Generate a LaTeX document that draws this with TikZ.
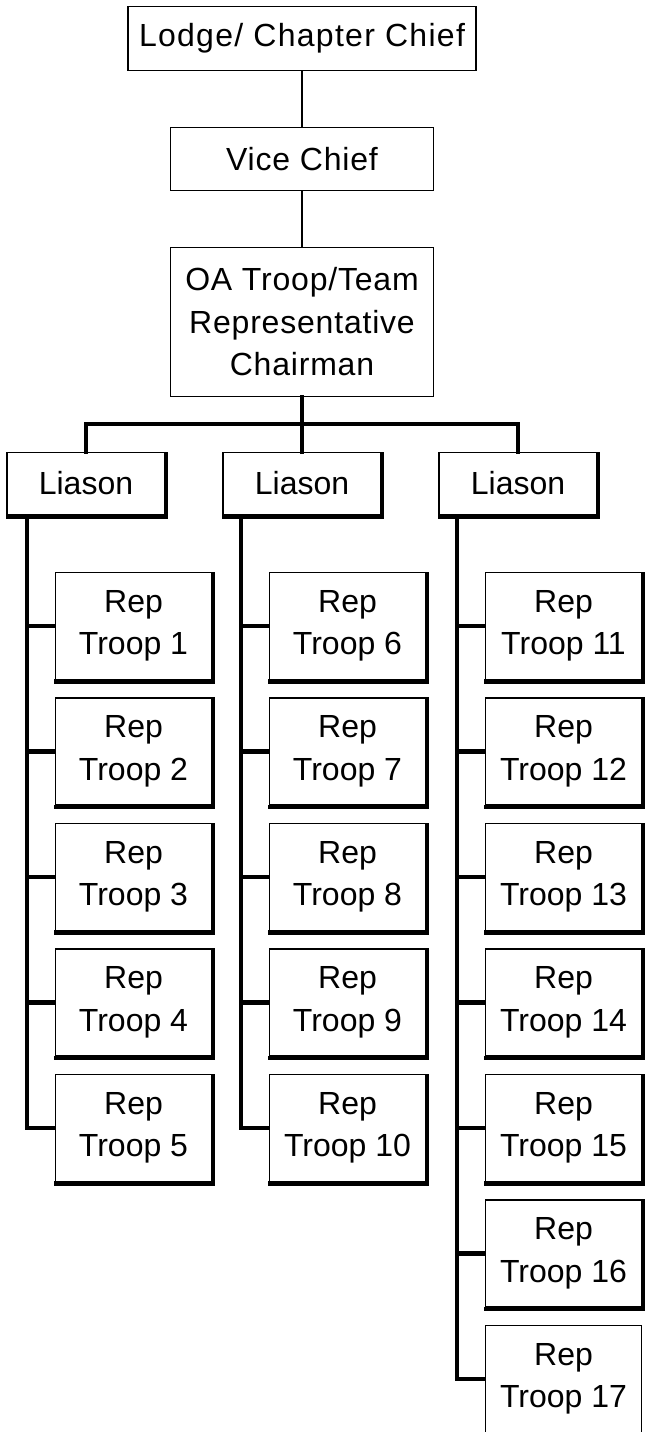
\documentclass[tikz,border=0pt]{standalone}
\usepackage{fontspec}
\setmainfont{Liberation Sans}
\newfontfamily\widefont[LetterSpace=4]{Liberation Sans}
\newfontfamily\midfont[LetterSpace=2.5]{Liberation Sans}
\begin{document}
\begin{tikzpicture}[x=1pt,y=-1pt,
  topbox/.style={draw, line width=1.7pt, fill=white, inner sep=0pt, align=center,
    font=\midfont\fontsize{32}{42.5}\selectfont},
  repbox/.style={draw, line width=1.4pt, fill=white, inner sep=0pt, align=center,
    minimum width=156pt, minimum height=107pt, font=\fontsize{32}{42.5}\selectfont},
  liabox/.style={draw, line width=1.5pt, fill=white, inner sep=0pt, align=center,
    minimum width=158pt, minimum height=62pt, font=\fontsize{32}{42.5}\selectfont},
  thinline/.style={line width=2.6pt},
  thickline/.style={line width=4.6pt, line join=miter, line cap=rect}]
\useasboundingbox[fill=white] (0,0) rectangle (645,1432);

% top chain
\node[topbox, font=\widefont\fontsize{32}{42.5}\selectfont, minimum width=348pt, minimum height=64pt] (lodge) at (302,38.5) {Lodge/ Chapter Chief};
\node[topbox, minimum width=263pt, minimum height=63pt] (vice) at (302,159) {Vice Chief};
\node[topbox, minimum width=263pt, minimum height=149pt] (oa) at (302,322) {OA Troop/Team\\Representative\\Chairman};

% liaisons
\node[liabox] (l1) at (86,483.5) {Liason};
\node[liabox] (l2) at (302,483.5) {Liason};
\node[liabox] (l3) at (518,483.5) {Liason};

% reps
\foreach \i in {1,...,5} {
  \node[repbox] (r\i) at (133.5,{626+125.5*(\i-1)}) {Rep\\Troop \i};
}
\foreach \i in {6,...,10} {
  \node[repbox] (r\i) at (347.5,{626+125.5*(\i-6)}) {Rep\\Troop \i};
}
\foreach \i in {11,...,17} {
  \node[repbox] (r\i) at (563.5,{626+125.5*(\i-11)}) {Rep\\Troop \i};
}

% heavy bottom/right edges
\foreach \n in {l1,l2,l3,r1,r2,r3,r4,r5,r6,r7,r8,r9,r10,r11,r12,r13,r14,r15,r16} {
  \fill ([xshift=-0.7pt]\n.north east) rectangle ([xshift=2.6pt,yshift=-3.6pt]\n.south east);
  \fill ([xshift=-0.7pt,yshift=1.2pt]\n.south west) rectangle ([xshift=2.6pt,yshift=-3.6pt]\n.south east);
}

% connectors
\draw[thinline] (lodge.south) -- (vice.north);
\draw[thinline] (vice.south) -- (oa.north);
\coordinate (bar) at (302,424);
\draw[thickline] (oa.south) -- (bar);
\draw[thickline] (l1.north) |- (bar) -| (l3.north);
\draw[thickline] (bar) -- (l2.north);

\coordinate (s1) at ([xshift=-59pt,yshift=-3pt]l1.south);
\coordinate (s2) at ([xshift=-61pt,yshift=-3pt]l2.south);
\coordinate (s3) at ([xshift=-61pt,yshift=-3pt]l3.south);
\draw[thickline, line cap=butt] (s1) |- (r5.west);
\draw[thickline, line cap=butt] (s2) |- (r10.west);
\draw[thickline, line cap=butt] (s3) |- (r17.west);
\foreach \i in {1,...,4} \draw[thickline, line cap=butt] (s1 |- r\i.west) -- (r\i.west);
\foreach \i in {6,...,9} \draw[thickline, line cap=butt] (s2 |- r\i.west) -- (r\i.west);
\foreach \i in {11,...,16} \draw[thickline, line cap=butt] (s3 |- r\i.west) -- (r\i.west);
\end{tikzpicture}
\end{document}
